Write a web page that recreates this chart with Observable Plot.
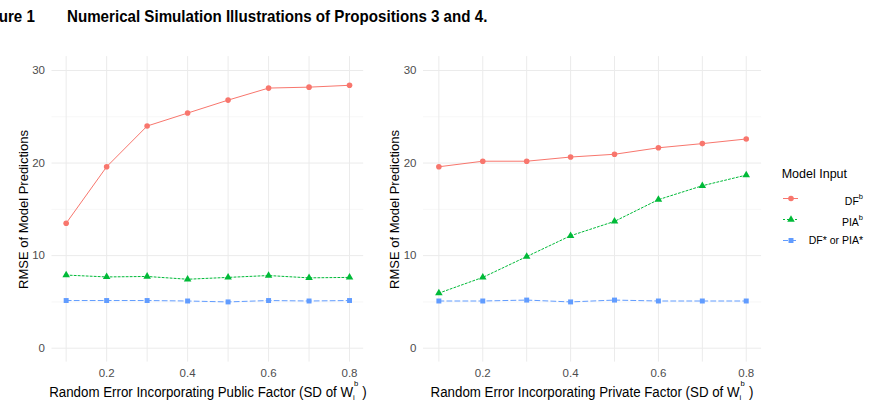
<!DOCTYPE html>
<html>
<head>
<meta charset="utf-8">
<script src="https://cdn.jsdelivr.net/npm/d3@7"></script>
<script src="https://cdn.jsdelivr.net/npm/@observablehq/plot@0.6"></script>
<style>
  html, body { margin: 0; padding: 0; background: #fff; }
  #fig { position: relative; width: 876px; height: 406px; overflow: hidden; font-family: "Liberation Sans", Arial, sans-serif; }
  .abs { position: absolute; white-space: pre; line-height: 1; }
  .title { font-weight: bold; font-size: 17px; color: #000; transform: scaleX(0.89); transform-origin: left center; }
  .xtitle { font-size: 14px; color: #000; text-align: center; transform: scaleX(0.95); transform-origin: center; }
  .ytitle { font-size: 13px; color: #000; text-align: center; transform: rotate(-90deg); transform-origin: center; }
  .scripts { display: inline-block; position: relative; width: 6px; height: 0; }
  .scripts .sup { position: absolute; left: 1px; bottom: 8.8px; font-size: 8px; line-height: 1; }
  .scripts .sub { position: absolute; left: 0px; top: -2.8px; font-size: 8px; line-height: 1; }
  .ltitle { font-size: 12.5px; color: #000; }
  .llabel { font-size: 10.5px; color: #000; text-align: right; }
  .lsup { position: relative; top: -6px; font-size: 7.5px; }
  svg { position: absolute; }
</style>
</head>
<body>
<div id="fig"></div>
<script>
// Standard deviations of the random error on the x axis
const sdLevels = [0.1, 0.2, 0.3, 0.4, 0.5, 0.6, 0.7, 0.8];

// Public-factor simulation: RMSE by model input
const publicDF   = [13.5, 19.6, 24.0, 25.4, 26.8, 28.1, 28.2, 28.4];
const publicPIA  = [7.9, 7.7, 7.75, 7.45, 7.65, 7.85, 7.6, 7.65];
const publicStar = [5.15, 5.15, 5.15, 5.1, 5.0, 5.15, 5.1, 5.15];

// Private-factor simulation: RMSE by model input
const privateDF   = [19.6, 20.2, 20.2, 20.65, 20.95, 21.65, 22.1, 22.6];
const privatePIA  = [5.95, 7.65, 9.9, 12.15, 13.7, 16.05, 17.55, 18.7];
const privateStar = [5.1, 5.1, 5.2, 5.0, 5.2, 5.1, 5.1, 5.1];

// Series, their colours, symbols and line dashes
const seriesNames   = ["DFb", "PIAb", "DF* or PIA*"];
const seriesColors  = ["#F8766D", "#00BA38", "#619CFF"];
const seriesSymbols = ["circle", "triangle", "square"];
const seriesDashes  = [null, "2,2", "5,3"];

// Legend label parts: [base, superscript]
const legendLabels = [["DF", "b"], ["PIA", "b"], ["DF* or PIA*", ""]];

// Tick values
const xMajor = [0.2, 0.4, 0.6, 0.8];
const xMinor = [0.1, 0.3, 0.5, 0.7];
const yMajor = [0, 10, 20, 30];
const yMinor = [5, 15, 25];

const xTitles = ["Random Error Incorporating Public Factor (SD of W", "Random Error Incorporating Private Factor (SD of W"];
const yTitle = "RMSE of Model Predictions";

const fig = document.getElementById("fig");

function toRows(seriesValues) {
  const rows = [];
  seriesValues.forEach((vals, s) => {
    vals.forEach((v, i) => rows.push({sd: sdLevels[i], rmse: v, series: seriesNames[s]}));
  });
  return rows;
}

function panel(seriesValues, {width, marginLeft, marginRight}) {
  const rows = toRows(seriesValues);
  const lines = seriesNames.map((name, s) =>
    Plot.line(rows.filter(d => d.series === name), {
      x: "sd", y: "rmse", stroke: seriesColors[s], strokeWidth: 1,
      strokeDasharray: seriesDashes[s] ?? undefined
    })
  );
  return Plot.plot({
    width, height: 366,
    marginLeft, marginRight, marginTop: 16.1, marginBottom: 44.4,
    style: {fontFamily: "'Liberation Sans', Arial, sans-serif", color: "#4d4d4d", background: "transparent", overflow: "visible"},
    x: {domain: [0.065, 0.835]},
    y: {domain: [-1.5, 31.5]},
    color: {domain: seriesNames, range: seriesColors},
    symbol: {domain: seriesNames, range: seriesSymbols},
    marks: [
      Plot.ruleY(yMinor, {stroke: "#f0f0f0", strokeWidth: 0.6}),
      Plot.ruleX(xMinor, {stroke: "#ebebeb", strokeWidth: 1}),
      Plot.ruleY(yMajor, {stroke: "#ebebeb", strokeWidth: 1}),
      Plot.ruleX(xMajor, {stroke: "#ebebeb", strokeWidth: 1}),
      Plot.axisX({ticks: xMajor, tickSize: 0, tickPadding: 7, tickFormat: d3.format(".1f"), label: null, fontSize: 11.5}),
      Plot.axisY({ticks: yMajor, tickSize: 0, tickPadding: 7, label: null, fontSize: 11.5}),
      ...lines,
      Plot.dot(rows, {x: "sd", y: "rmse", symbol: "series", fill: "series", r: 2.8})
    ]
  });
}

function place(el, left, top) {
  el.style.left = left + "px";
  el.style.top = top + "px";
  fig.appendChild(el);
  return el;
}

function textDiv(cls, html, left, top, width) {
  const d = document.createElement("div");
  d.className = "abs " + cls;
  d.innerHTML = html;
  if (width != null) d.style.width = width + "px";
  return place(d, left, top);
}

// Figure heading (the figure number runs off the left edge)
textDiv("title", "Figure 1", -24, 7.6);
textDiv("title", "Numerical Simulation Illustrations of Propositions 3 and 4.", 67, 7.6);

// Left and right panels
const left = panel([publicDF, publicPIA, publicStar], {width: 380, marginLeft: 51.5, marginRight: 16.8});
place(left, 0, 40);
const right = panel([privateDF, privatePIA, privateStar], {width: 390, marginLeft: 43, marginRight: 8.9});
place(right, 380, 40);

// Axis titles
const wScripts = '<span class="scripts"><span class="sup">b</span><span class="sub">i</span></span> )';
textDiv("xtitle", xTitles[0] + wScripts, 11.5, 384.8, 392);
textDiv("xtitle", xTitles[1] + wScripts, 392, 384.8, 400);
textDiv("ytitle", yTitle, 23 - 100, 209 - 6.5, 200);
textDiv("ytitle", yTitle, 394 - 100, 209 - 6.5, 200);

// Legend keys
const legend = Plot.plot({
  width: 106, height: 95, margin: 0,
  style: {background: "transparent", overflow: "visible"},
  x: {domain: [0, 1], range: [13, 28], axis: null},
  y: {type: "point", domain: seriesNames, range: [37.3, 80], padding: 0, axis: null},
  color: {domain: seriesNames, range: seriesColors},
  symbol: {domain: seriesNames, range: seriesSymbols},
  marks: [
    ...seriesNames.map((name, s) => Plot.ruleY([name], {
      y: d => d, x1: 0, x2: 1, stroke: seriesColors[s], strokeWidth: 1,
      strokeDasharray: seriesDashes[s] ?? undefined
    })),
    Plot.dot(seriesNames, {x: 0.5, y: d => d, symbol: d => d, fill: d => d, r: 2.8})
  ]
});
place(legend, 770, 160);

textDiv("ltitle", "Model Input", 781.7, 179 - 12.5 * 0.8465);
const labelBaselines = [205, 226, 244];
legendLabels.forEach(([base, sup], i) => {
  const html = base + (sup ? '<span class="lsup">' + sup + '</span>' : '');
  textDiv("llabel", html, 783, labelBaselines[i] - 10.5 * 0.8465, 80);
});
</script>
</body>
</html>
